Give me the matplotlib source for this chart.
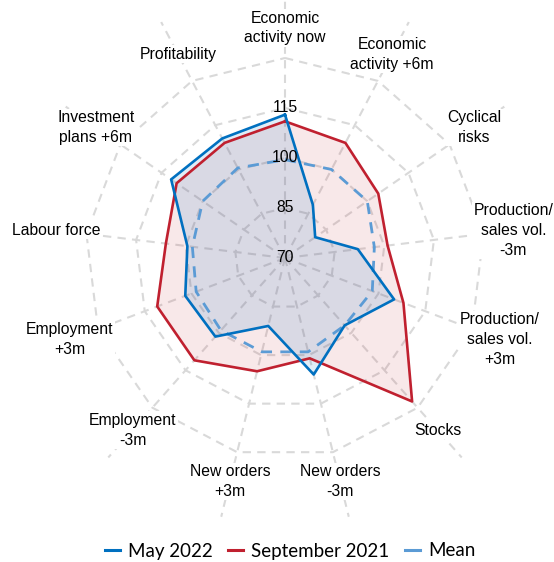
import numpy as np
import matplotlib
matplotlib.use('Agg')
import matplotlib.pyplot as plt
from matplotlib.lines import Line2D

# categories clockwise from the top
categories = ['Economic\nactivity now', 'Economic\nactivity +6m', 'Cyclical\nrisks',
              'Production/\nsales vol.\n-3m', 'Production/\nsales vol.\n+3m', 'Stocks',
              'New orders\n-3m', 'New orders\n+3m', 'Employment\n-3m', 'Employment\n+3m',
              'Labour force', 'Investment\nplans +6m', 'Profitability']
may_2022 = [113, 88, 81, 92, 105, 97, 106, 91, 101.5, 102, 99.5, 111.5, 110.5]
sep_2021 = [111, 109, 104, 101, 108, 127.5, 101, 105, 111, 111, 106, 109.5, 109]
mean_vals = [99.5, 100, 100, 97, 98, 97, 99, 99, 99, 98.5, 98, 100, 100.5]
ring_levels = [85, 100, 115, 130]
tick_labels = [70, 85, 100, 115]

BLUE = '#0070C0'
RED = '#C0202F'
LIGHT = '#5B9BD5'
GRID = '#D9D9D9'

n = len(categories)
angles = np.arange(n) * 2 * np.pi / n
closed = np.append(angles, angles[0])

def close(v):
    return list(v) + [v[0]]

fig = plt.figure(figsize=(5.54, 5.62), dpi=100)
fig.patch.set_facecolor('white')
R = 266.67  # px radius of axes (value 150)
ax = fig.add_axes([(285 - R) / 554, (562 - 258 - R) / 562, 2 * R / 554, 2 * R / 562],
                  projection='polar')
ax.set_theta_zero_location('N')
ax.set_theta_direction(-1)
ax.set_ylim(70, 150)
ax.grid(False)
ax.set_xticks([])
ax.set_yticks([])
ax.spines['polar'].set_visible(False)
ax.patch.set_alpha(0)

grid_kw = dict(color=GRID, lw=1.5, linestyle=(0, (4, 3)), zorder=1)
for lvl in ring_levels:
    ax.plot(closed, [lvl] * (n + 1), **grid_kw)
for a in angles:
    ax.plot([a, a], [70, 150], **grid_kw)

# fills
ax.fill(closed, close(sep_2021), color=RED, alpha=0.10, lw=0, zorder=2)
ax.fill(closed, close(may_2022), color=BLUE, alpha=0.12, lw=0, zorder=2)

ax.plot(closed, close(mean_vals), color=LIGHT, lw=2, linestyle=(0, (4, 3)), zorder=3)
ax.plot(closed, close(sep_2021), color=RED, lw=1.9, zorder=4)
ax.plot(closed, close(may_2022), color=BLUE, lw=1.9, zorder=5)

for t in tick_labels:
    ax.text(0, t, str(t), ha='center', va='center', fontsize=11.3,
            family='Liberation Sans', color='black', zorder=6)

for a, lab in zip(angles, categories):
    ax.text(a, 139, lab, ha='center', va='center', multialignment='center',
            fontsize=11.3, family='Liberation Sans', color='black', linespacing=1.4,
            bbox=dict(facecolor='white', edgecolor='none', pad=1), zorder=7)

handles = [Line2D([], [], color=BLUE, lw=2.2),
           Line2D([], [], color=RED, lw=2.2),
           Line2D([], [], color=LIGHT, lw=2.2)]
fig.legend(handles, ['May 2022', 'September 2021', 'Mean'], loc='center',
           bbox_to_anchor=(290 / 554, 1 - 551 / 562), ncol=3, frameon=False,
           prop=dict(family='Lato', size=13.5), handlelength=0.8,
           handletextpad=0.45, columnspacing=0.8)

fig.savefig('out.png', dpi=100, facecolor='white')
plt.close(fig)
